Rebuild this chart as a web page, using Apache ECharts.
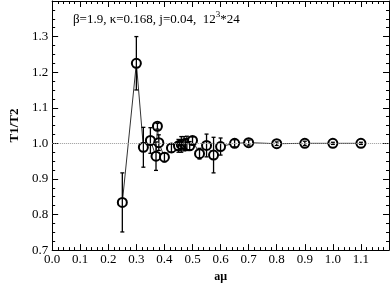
<!DOCTYPE html>
<html>
<head>
<meta charset="utf-8">
<script src="https://cdn.jsdelivr.net/npm/echarts@6/dist/echarts.min.js"></script>
<style>
  html, body { margin: 0; padding: 0; background: #fff; }
  #chart { width: 392px; height: 288px; }
</style>
</head>
<body>
<div id="chart"></div>
<script>
  // a*mu values, T1/T2 ratio and its error
  var amu = [0.25, 0.30, 0.325, 0.35, 0.37, 0.375, 0.38, 0.40, 0.425, 0.45, 0.46, 0.47, 0.475,
    0.48, 0.49, 0.50, 0.525, 0.55, 0.575, 0.60, 0.65, 0.70, 0.80, 0.90, 1.00, 1.10]
  var ratio = [0.834, 1.225, 0.989, 1.008, 0.964, 1.048, 1.002, 0.961, 0.987, 0.993, 0.997, 0.999, 0.996,
    1.000, 0.993, 1.008, 0.971, 0.994, 0.967, 0.991, 1.000, 1.002, 0.999, 1.000, 1.000, 1.000]
  var err = [0.083, 0.075, 0.056, 0.036, 0.040, 0.008, 0.022, 0.013, 0.012, 0.018, 0.022, 0.020, 0.016,
    0.020, 0.012, 0.010, 0.015, 0.032, 0.050, 0.024, 0.010, 0.007, 0.005, 0.006, 0.003, 0.003]

  var serif = 'Liberation Serif'
  var points = amu.map(function (x, i) { return [x, ratio[i]] })
  var bars = amu.map(function (x, i) { return [x, ratio[i] - err[i], ratio[i] + err[i]] })

  var chart = echarts.init(document.getElementById('chart'))

  var tickStyle = { color: '#000', width: 1 }
  function frameAxis(pos, extra) {
    var a = {
      position: pos,
      type: 'value',
      axisLine: { show: true, onZero: false, lineStyle: { color: '#000', width: 1 } },
      axisTick: { show: true, inside: true, length: 6, lineStyle: tickStyle },
      minorTick: { show: true, splitNumber: 5, length: 3, lineStyle: tickStyle },
      splitLine: { show: false },
      axisLabel: { show: false }
    }
    return Object.assign(a, extra)
  }

  chart.setOption({
    animation: false,
    title: {
      text: '{a|β=1.9, κ=0.168, j=0.04,  12}{s|3}{a|*24}',
      left: 68,
      top: 5,
      textStyle: {
        fontWeight: 'normal',
        rich: {
          a: { fontFamily: serif, fontSize: 13, fontWeight: 'normal', color: '#000', lineHeight: 18 },
          s: { fontFamily: serif, fontSize: 9, fontWeight: 'normal', color: '#000', padding: [0, 0, 11, 0] }
        }
      }
    },
    grid: { left: 32, right: 3, top: 1, bottom: 25 },
    xAxis: [
      frameAxis('bottom', {
        min: 0, max: 1.2, interval: 0.1,
        name: 'aμ', nameLocation: 'middle', nameGap: 16,
        nameTextStyle: { fontFamily: serif, fontSize: 12, fontWeight: 'bold', color: '#000' },
        axisLabel: {
          show: true, margin: 3, color: '#000', fontFamily: serif, fontSize: 13,
          showMaxLabel: false,
          formatter: function (v) { return v.toFixed(1) }
        }
      }),
      frameAxis('top', { min: 0, max: 1.2, interval: 0.1 })
    ],
    yAxis: [
      frameAxis('left', {
        min: 0.7, max: 1.4, interval: 0.1,
        minorTick: { show: true, splitNumber: 4, length: 3, lineStyle: tickStyle },
        name: 'T1/T2', nameLocation: 'middle', nameGap: 25, nameRotate: 90,
        nameTextStyle: { fontFamily: serif, fontSize: 13, fontWeight: 'bold', color: '#000' },
        axisLabel: {
          show: true, margin: 4, color: '#000', fontFamily: serif, fontSize: 13,
          showMaxLabel: false,
          formatter: function (v) { return v.toFixed(1) }
        }
      }),
      frameAxis('right', {
        min: 0.7, max: 1.4, interval: 0.1,
        minorTick: { show: true, splitNumber: 4, length: 3, lineStyle: tickStyle }
      })
    ],
    series: [
      {
        type: 'line',
        data: points,
        symbol: 'emptyCircle',
        symbolSize: 9,
        showAllSymbol: true,
        lineStyle: { color: '#333', width: 1 },
        itemStyle: { color: '#000', borderColor: '#000', borderWidth: 1 },
        z: 3,
        markLine: {
          silent: true,
          symbol: 'none',
          label: { show: false },
          lineStyle: { color: '#999', type: 'dotted', width: 1 },
          data: [{ yAxis: 1 }]
        }
      },
      {
        type: 'custom',
        data: bars,
        z: 4,
        renderItem: function (params, api) {
          var x = api.value(0)
          var lo = api.coord([x, api.value(1)])
          var hi = api.coord([x, api.value(2)])
          var c = 2
          var st = { stroke: '#000', lineWidth: 1.3 }
          return {
            type: 'group',
            children: [
              { type: 'line', shape: { x1: lo[0], y1: lo[1], x2: hi[0], y2: hi[1] }, style: st },
              { type: 'line', shape: { x1: lo[0] - c, y1: lo[1], x2: lo[0] + c, y2: lo[1] }, style: st },
              { type: 'line', shape: { x1: hi[0] - c, y1: hi[1], x2: hi[0] + c, y2: hi[1] }, style: st }
            ]
          }
        }
      }
    ]
  })
</script>
</body>
</html>
